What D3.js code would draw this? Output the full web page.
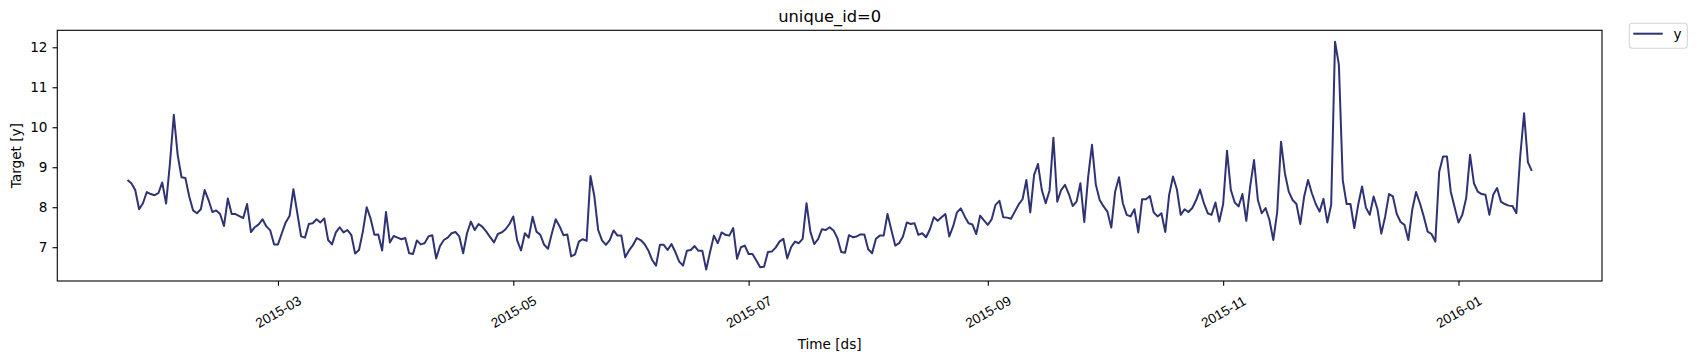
<!DOCTYPE html>
<html>
<head>
<meta charset="utf-8">
<script src="https://cdn.jsdelivr.net/npm/d3@7"></script>
<style>
  html, body { margin: 0; padding: 0; background: #fff; }
  svg { display: block; font-family: "DejaVu Sans", sans-serif; }
</style>
</head>
<body>
<svg id="chart" width="1697" height="361"></svg>
<script>
// ---- data ----
const startDate = "2015-01-21";
const seriesName = "y";
const title = "unique_id=0";
const xLabel = "Time [ds]";
const yLabel = "Target [y]";
const values = [
  8.68, 8.60, 8.43, 7.95, 8.10, 8.38, 8.33, 8.30, 8.35, 8.62,
  8.09, 9.10, 10.31, 9.31, 8.75, 8.73, 8.27, 7.92, 7.85, 7.95,
  8.43, 8.18, 7.88, 7.92, 7.83, 7.53, 8.22, 7.83, 7.83, 7.78,
  7.73, 8.08, 7.38, 7.50, 7.57, 7.70, 7.52, 7.42, 7.07, 7.07,
  7.35, 7.62, 7.78, 8.45, 7.86, 7.27, 7.24, 7.58, 7.60, 7.70,
  7.62, 7.72, 7.18, 7.07, 7.37, 7.50, 7.37, 7.43, 7.31, 6.84,
  6.93, 7.39, 8.00, 7.72, 7.31, 7.32, 6.92, 7.88, 7.12, 7.28,
  7.24, 7.20, 7.23, 6.85, 6.83, 7.17, 7.07, 7.10, 7.27, 7.30,
  6.72, 7.03, 7.18, 7.24, 7.35, 7.38, 7.27, 6.85, 7.35, 7.64,
  7.43, 7.58, 7.51, 7.39, 7.25, 7.12, 7.33, 7.37, 7.45, 7.58,
  7.77, 7.17, 6.92, 7.35, 7.24, 7.76, 7.39, 7.31, 7.06, 6.96,
  7.35, 7.70, 7.52, 7.30, 7.32, 6.77, 6.82, 7.14, 7.20, 7.16,
  8.78, 8.28, 7.43, 7.17, 7.06, 7.18, 7.42, 7.29, 7.29, 6.75,
  6.92, 7.05, 7.23, 7.18, 7.08, 6.92, 6.68, 6.54, 7.06, 7.06,
  6.93, 7.08, 6.88, 6.64, 6.54, 6.91, 6.93, 7.03, 6.91, 6.91,
  6.44, 6.88, 7.29, 7.10, 7.37, 7.31, 7.29, 7.48, 6.71, 7.00,
  7.04, 6.83, 6.83, 6.67, 6.50, 6.51, 6.88, 6.89, 6.99, 7.14,
  7.21, 6.72, 7.00, 7.14, 7.10, 7.21, 8.10, 7.39, 7.08, 7.20,
  7.45, 7.43, 7.50, 7.42, 7.23, 6.88, 6.86, 7.30, 7.25, 7.27,
  7.32, 7.32, 6.95, 6.85, 7.21, 7.29, 7.29, 7.83, 7.43, 7.04,
  7.10, 7.27, 7.62, 7.58, 7.60, 7.31, 7.35, 7.25, 7.45, 7.75,
  7.66, 7.75, 7.83, 7.27, 7.52, 7.87, 7.97, 7.77, 7.60, 7.57,
  7.33, 7.79, 7.67, 7.56, 7.70, 8.06, 8.16, 7.75, 7.74, 7.71,
  7.89, 8.07, 8.20, 8.68, 7.87, 8.81, 9.08, 8.43, 8.10, 8.42,
  9.74, 8.14, 8.43, 8.56, 8.33, 8.03, 8.14, 8.60, 7.63, 8.75,
  9.56, 8.56, 8.18, 8.02, 7.89, 7.49, 8.39, 8.75, 8.10, 7.81,
  7.77, 7.95, 7.37, 8.20, 8.20, 8.28, 7.87, 7.77, 7.85, 7.38,
  8.31, 8.77, 8.45, 7.81, 7.95, 7.88, 7.98, 8.18, 8.44, 8.10,
  7.85, 7.81, 8.12, 7.64, 8.08, 9.41, 8.43, 8.12, 8.02, 8.33,
  7.66, 8.52, 9.18, 8.18, 7.85, 7.98, 7.68, 7.18, 7.87, 9.64,
  8.85, 8.39, 8.18, 8.08, 7.58, 8.27, 8.68, 8.35, 8.08, 7.89,
  8.21, 7.62, 8.06, 12.14, 11.56, 8.68, 8.08, 8.08, 7.48, 8.06,
  8.52, 7.99, 7.81, 8.27, 7.95, 7.34, 7.77, 8.33, 8.27, 7.83,
  7.63, 7.56, 7.18, 7.93, 8.38, 8.10, 7.77, 7.39, 7.33, 7.14,
  8.89, 9.27, 9.27, 8.39, 8.00, 7.62, 7.81, 8.23, 9.31, 8.60,
  8.39, 8.33, 8.31, 7.81, 8.31, 8.48, 8.14, 8.08, 8.04, 8.03,
  7.85, 9.27, 10.35, 9.12, 8.91
];
const xTickLabels = ["2015-03", "2015-05", "2015-07", "2015-09", "2015-11", "2016-01"];
const yTickValues = [7, 8, 9, 10, 11, 12];

// ---- build ----
const parseDay = d3.utcParse("%Y-%m-%d");
const parseMonth = d3.utcParse("%Y-%m");
const t0 = parseDay(startDate);
const data = values.map((v, i) => ({ ds: d3.utcDay.offset(t0, i), y: v }));

const svg = d3.select("#chart");
const m = { left: 57.3, right: 1602, top: 30.3, bottom: 281 };
const lineColor = "#2f3273";

// matplotlib-like 5% margins
const xExt = d3.extent(data, d => +d.ds);
const xPad = (xExt[1] - xExt[0]) * 0.05;
const yExt = d3.extent(data, d => d.y);
const yPad = (yExt[1] - yExt[0]) * 0.05;

const x = d3.scaleUtc().domain([new Date(xExt[0] - xPad), new Date(xExt[1] + xPad)]).range([m.left, m.right]);
const y = d3.scaleLinear().domain([yExt[0] - yPad, yExt[1] + yPad]).range([m.bottom, m.top]);

// line
const line = d3.line().x(d => x(d.ds)).y(d => y(d.y));
svg.append("path").datum(data)
  .attr("fill", "none").attr("stroke", lineColor).attr("stroke-width", 2)
  .attr("stroke-linejoin", "round").attr("stroke-linecap", "butt")
  .attr("d", line);

// frame
svg.append("rect").attr("x", m.left).attr("y", m.top)
  .attr("width", m.right - m.left).attr("height", m.bottom - m.top)
  .attr("fill", "none").attr("stroke", "#000").attr("stroke-width", 1.1);

// x axis
const xTicks = xTickLabels.map(s => parseMonth(s));
const xAxis = d3.axisBottom(x).tickValues(xTicks).tickSize(4.8).tickPadding(0).tickFormat("");
const gx = svg.append("g").attr("transform", `translate(0,${m.bottom})`).call(xAxis);
gx.select(".domain").remove();
gx.selectAll(".tick line").attr("stroke", "#000").attr("stroke-width", 1.1);
gx.selectAll(".tick").append("text")
  .attr("fill", "#000")
  .attr("font-size", "13.6px")
  .attr("text-anchor", "middle")
  .attr("dominant-baseline", "central")
  .attr("transform", "translate(0,31) rotate(-30)")
  .text((d, i) => xTickLabels[i]);

// y axis
const yAxis = d3.axisLeft(y).tickValues(yTickValues).tickSize(4.8).tickPadding(5).tickFormat(d3.format("d"));
const gy = svg.append("g").attr("transform", `translate(${m.left},0)`).call(yAxis);
gy.select(".domain").remove();
gy.selectAll(".tick line").attr("stroke", "#000").attr("stroke-width", 1.1);
gy.selectAll(".tick text").attr("font-size", "13.6px").attr("fill", "#000")
  .attr("font-family", "DejaVu Sans, sans-serif");

// labels
const cx = (m.left + m.right) / 2;
svg.append("text").attr("x", cx).attr("y", 21.7).attr("text-anchor", "middle")
  .attr("font-size", "16.3px").attr("fill", "#000").text(title);
svg.append("text").attr("x", cx).attr("y", 349.3).attr("text-anchor", "middle")
  .attr("font-size", "13.6px").attr("fill", "#000").text(xLabel);
svg.append("text").attr("transform", `translate(20.5,${(m.top + m.bottom) / 2}) rotate(-90)`)
  .attr("text-anchor", "middle").attr("font-size", "13.6px").attr("fill", "#000").text(yLabel);

// legend
const lg = svg.append("g");
lg.append("rect").attr("x", 1629.3).attr("y", 23.3).attr("width", 58).attr("height", 25)
  .attr("rx", 3).attr("fill", "#fff").attr("stroke", "#d5d5d5").attr("stroke-width", 1.1);
lg.append("line").attr("x1", 1633.3).attr("x2", 1662.7).attr("y1", 33.7).attr("y2", 33.7)
  .attr("stroke", lineColor).attr("stroke-width", 2);
lg.append("text").attr("x", 1673.5).attr("y", 38.5).attr("font-size", "13.6px").attr("fill", "#000").text(seriesName);
</script>
</body>
</html>
